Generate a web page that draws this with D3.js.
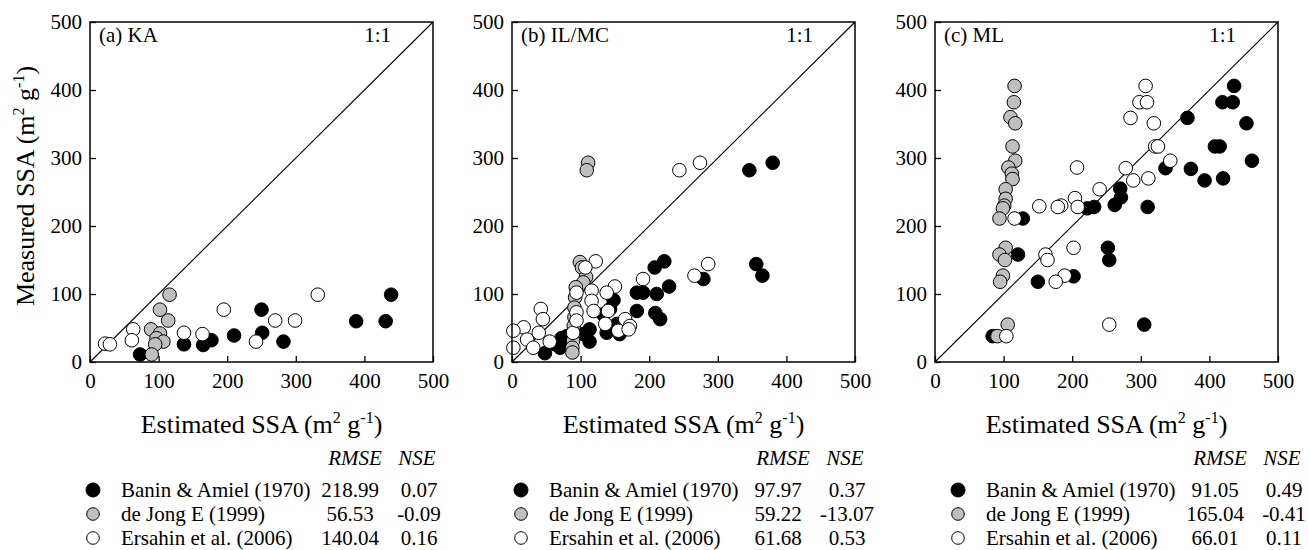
<!DOCTYPE html>
<html>
<head>
<meta charset="utf-8">
<script src="https://cdn.jsdelivr.net/npm/d3@7"></script>
<style>
  body { margin: 0; background: #fff; }
  text { font-family: "Liberation Serif", "Times New Roman", serif; fill: #000; }
</style>
</head>
<body>
<script>
// measured vs estimated SSA, three clay groups

var ticks = [0, 100, 200, 300, 400, 500];
var panelTitles = ["(a) KA", "(b) IL/MC", "(c) ML"];
var seriesNames = ["Banin & Amiel (1970)", "de Jong E (1999)", "Ersahin et al. (2006)"];
var seriesFill = ["#000", "#bfbfbf", "#fff"];

var rmse = [["218.99", "56.53", "140.04"], ["97.97", "59.22", "61.68"], ["91.05", "165.04", "66.01"]];
var nse = [["0.07", "-0.09", "0.16"], ["0.37", "-13.07", "0.53"], ["0.49", "-0.41", "0.11"]];

// [estimated, measured]
var kaBanin = [[73,11],[137,26],[165,25],[177,32],[210,39],[250,77],[251,43],[282,30],[388,60],[431,60],[439,99]];
var kaDeJong = [[116,99],[102,77],[114,61],[89,48],[102,42],[97,35],[107,30],[95,26],[90,11]];
var kaErsahin = [[22,27],[29,26],[63,48],[61,32],[137,43],[164,41],[195,77],[242,30],[270,61],[299,61],[332,99]];

var ilBanin = [[380,293],[346,282],[356,144],[365,127],[279,122],[222,148],[208,139],[229,111],[211,100],[182,102],
  [191,102],[182,75],[209,72],[216,63],[148,91],[143,78],[133,70],[138,43],[113,30],[113,48],[104,41],[80,38],
  [70,21],[63,26],[48,13],[77,28],[153,56],[157,41],[85,33],[72,35]];
var ilDeJong = [[111,293],[109,282],[99,147],[102,139],[108,125],[104,117],[93,110],[92,95],[91,80],[91,66],
  [90,53],[90,41],[89,31],[88,21],[88,14]];
var ilErsahin = [[274,293],[244,282],[286,144],[266,127],[191,122],[122,148],[107,139],[150,111],[138,102],[116,105],
  [116,90],[94,102],[94,73],[119,75],[140,75],[136,56],[155,46],[165,63],[172,53],[170,48],[42,78],[45,63],
  [17,51],[2,46],[2,21],[22,33],[31,21],[39,43],[55,30],[89,43],[94,61]];

var mlBanin = [[436,406],[419,382],[434,382],[368,359],[454,351],[408,317],[415,317],[462,296],[336,285],[373,284],
  [393,267],[420,270],[270,255],[271,242],[262,231],[232,228],[222,226],[310,228],[128,211],[121,158],[252,168],
  [254,150],[150,118],[202,126],[305,55],[84,38]];
var mlDeJong = [[116,406],[115,382],[110,360],[117,351],[113,317],[117,296],[107,286],[112,277],[113,269],[103,254],
  [103,240],[101,230],[99,226],[94,211],[103,168],[94,158],[102,150],[99,127],[95,118],[106,55],[91,38]];
var mlErsahin = [[307,406],[298,382],[309,382],[285,359],[319,351],[321,317],[325,317],[343,296],[278,285],[289,267],
  [311,270],[240,254],[207,286],[204,241],[208,228],[184,230],[179,228],[152,229],[116,211],[161,158],[164,150],
  [202,168],[189,127],[176,118],[254,55],[104,38]];

var panelData = [[kaBanin, kaDeJong, kaErsahin], [ilBanin, ilDeJong, ilErsahin], [mlBanin, mlDeJong, mlErsahin]];

var width = 1309, height = 550;
var panelLeft = [90, 512, 935], panelW = 343;
var plotTop = 22, plotBottom = 362;
var legendDx = [3, 9, 23];

var svg = d3.select("body").append("svg")
  .attr("width", width)
  .attr("height", height);

var y = d3.scaleLinear().domain([0, 500]).range([plotBottom, plotTop]);

panelData.forEach(function(series, p) {
  var x = d3.scaleLinear().domain([0, 500]).range([panelLeft[p], panelLeft[p] + panelW]);
  var g = svg.append("g");

  // 1:1 line
  g.append("line")
    .attr("x1", x(0)).attr("y1", y(0))
    .attr("x2", x(500)).attr("y2", y(500))
    .attr("stroke", "#000").attr("stroke-width", 1.1);

  // points, black first then grey then white on top
  series.forEach(function(pts, s) {
    g.selectAll(null)
      .data(pts)
      .enter()
      .append("circle")
        .attr("cx", function(d) { return x(d[0]); })
        .attr("cy", function(d) { return y(d[1]); })
        .attr("r", 6.8)
        .attr("fill", seriesFill[s])
        .attr("stroke", "#000")
        .attr("stroke-width", 1);
  });

  // frame
  g.append("rect")
    .attr("x", x(0)).attr("y", y(500))
    .attr("width", x(500) - x(0)).attr("height", y(0) - y(500))
    .attr("fill", "none").attr("stroke", "#000").attr("stroke-width", 1.5);

  // axes with inward ticks
  var xAxis = g.append("g")
    .attr("transform", "translate(0," + plotBottom + ")")
    .call(d3.axisBottom(x).tickValues(ticks).tickSizeInner(-6).tickSizeOuter(0).tickPadding(11));
  var yAxis = g.append("g")
    .attr("transform", "translate(" + panelLeft[p] + ",0)")
    .call(d3.axisLeft(y).tickValues(ticks).tickSizeInner(-6).tickSizeOuter(0).tickPadding(8));
  [xAxis, yAxis].forEach(function(a) {
    a.select(".domain").remove();
    a.selectAll("line").attr("stroke", "#000").attr("stroke-width", 1.3);
    a.selectAll("text")
      .style("font-family", "'Liberation Serif', 'Times New Roman', serif")
      .style("font-size", "21px")
      .attr("fill", "#000");
  });

  // panel label and 1:1 mark
  g.append("text")
    .attr("x", x(0) + 9).attr("y", 42)
    .style("font-size", "21px")
    .text(panelTitles[p]);
  g.append("text")
    .attr("x", x(500) - 42).attr("y", 42)
    .attr("text-anchor", "end")
    .style("font-size", "21px")
    .text("1:1");

  // x title
  var xt = g.append("text")
    .attr("x", (x(0) + x(500)) / 2).attr("y", 433)
    .attr("text-anchor", "middle")
    .style("font-size", "26px");
  xt.append("tspan").text("Estimated SSA (m");
  xt.append("tspan").attr("dy", -10).style("font-size", "16px").text("2");
  xt.append("tspan").attr("dy", 10).text(" g");
  xt.append("tspan").attr("dy", -10).style("font-size", "16px").text("-1");
  xt.append("tspan").attr("dy", 10).text(")");

  // legend
  var lx = panelLeft[p] + legendDx[p];
  g.append("text")
    .attr("x", lx + 262).attr("y", 465)
    .attr("text-anchor", "middle")
    .style("font-size", "21px").style("font-style", "italic")
    .text("RMSE");
  g.append("text")
    .attr("x", lx + 324).attr("y", 465)
    .attr("text-anchor", "middle")
    .style("font-size", "21px").style("font-style", "italic")
    .text("NSE");

  seriesNames.forEach(function(name, s) {
    var ly = 497 + s * 24;
    g.append("circle")
      .attr("cx", lx).attr("cy", ly - 7)
      .attr("r", s === 0 ? 7 : 6.3)
      .attr("fill", seriesFill[s])
      .attr("stroke", "#000").attr("stroke-width", 1);
    g.append("text")
      .attr("x", lx + 28).attr("y", ly)
      .style("font-size", "21px")
      .text(name);
    g.append("text")
      .attr("x", lx + 257).attr("y", ly)
      .attr("text-anchor", "middle")
      .style("font-size", "21px")
      .text(rmse[p][s]);
    g.append("text")
      .attr("x", lx + 326).attr("y", ly)
      .attr("text-anchor", "middle")
      .style("font-size", "21px")
      .text(nse[p][s]);
  });
});

// y title, first panel only
var yt = svg.append("text")
  .attr("transform", "translate(34,186) rotate(-90)")
  .attr("text-anchor", "middle")
  .style("font-size", "26px");
yt.append("tspan").text("Measured SSA (m");
yt.append("tspan").attr("dy", -10).style("font-size", "16px").text("2");
yt.append("tspan").attr("dy", 10).text(" g");
yt.append("tspan").attr("dy", -10).style("font-size", "16px").text("-1");
yt.append("tspan").attr("dy", 10).text(")");
</script>
</body>
</html>
